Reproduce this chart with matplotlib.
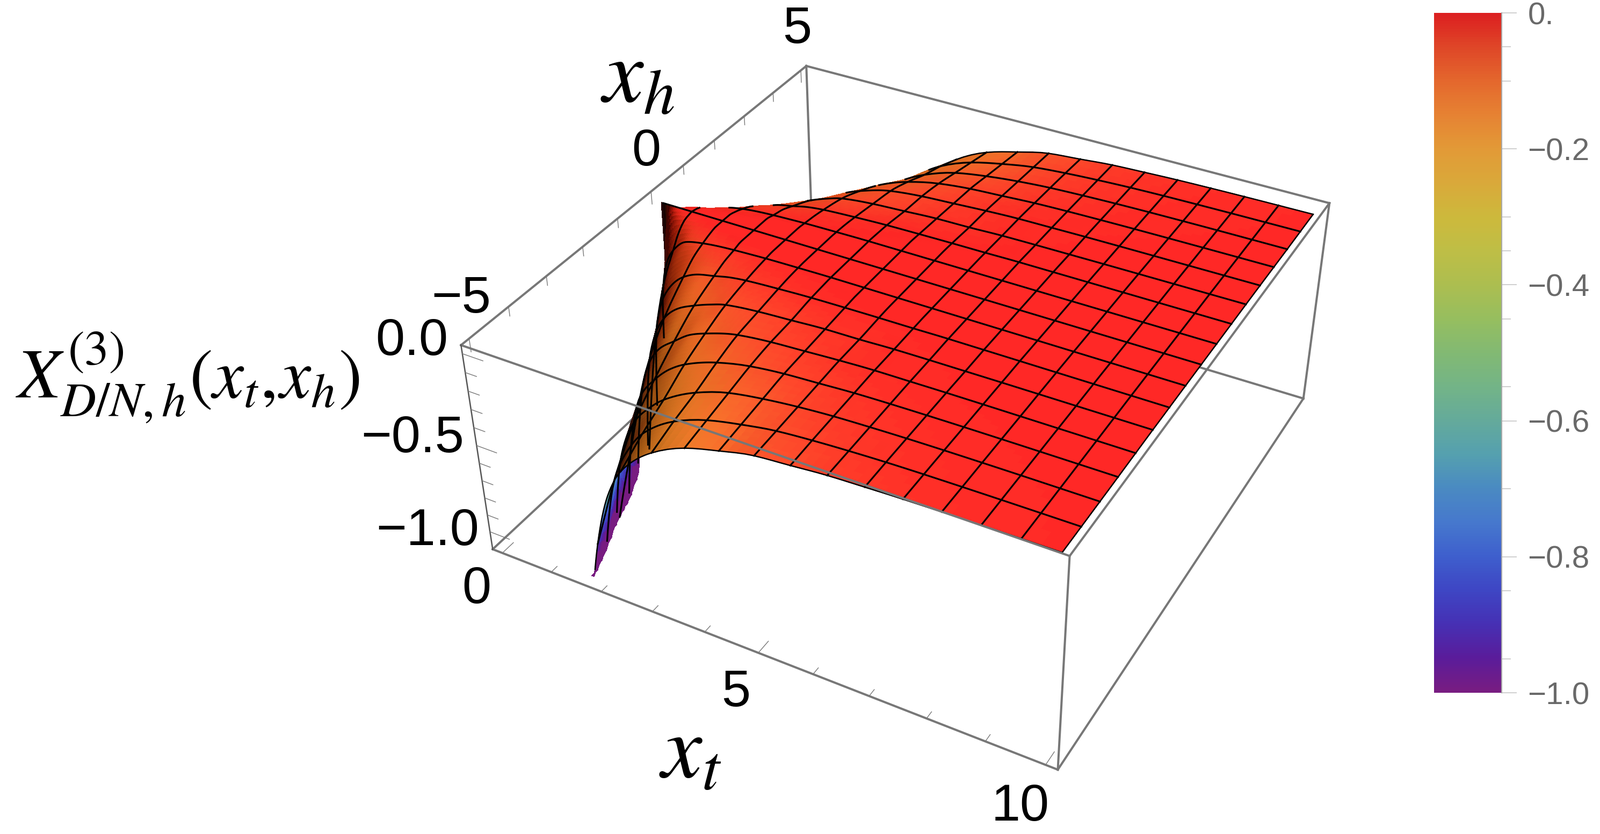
import numpy as np
import matplotlib
matplotlib.use("Agg")
import matplotlib.pyplot as plt
from matplotlib.colors import LinearSegmentedColormap, Normalize
from matplotlib.cm import ScalarMappable
from mpl_toolkits.mplot3d import proj3d
from mpl_toolkits.mplot3d.art3d import Poly3DCollection

W, H = 2979, 1553

# box ranges
xt_lim = (-0.2, 10.2)
xh_lim = (-5.2, 5.2)
z_lim = (-1.105, 0.045)
z_clip = -1.09

# values, only |x_h| because the surface is even in x_h
xt_grid = np.array([0, .15, .3, .45, .625, .9, 1.25, 1.55, 1.875, 2.2, 2.5, 3.125, 3.75, 4.375, 5, 5.625, 6.25, 6.875, 7.5, 8.75, 10])
xh_grid = np.array([0, .2, .4, .625, .9, 1.25, 1.875, 2.5, 3.125, 3.75, 4.375, 5])
z_h000 = [0, 0, 0, 0, 0, 0, 0, 0, 0, 0, 0, 0, 0, 0, 0, 0, 0, 0, 0, 0, 0]
z_h020 = [-3, -.2, -.05, -.02, -.01, -.005, 0, 0, 0, 0, 0, 0, 0, 0, 0, 0, 0, 0, 0, 0, 0]
z_h040 = [-4, -.9, -.2, -.09, -.045, -.02, -.01, -.005, 0, 0, 0, 0, 0, 0, 0, 0, 0, 0, 0, 0, 0]
z_h062 = [-5, -2.6, -.48, -.22, -.12, -.05, -.028, -.018, -.012, -.008, -.005, -.002, 0, 0, 0, 0, 0, 0, 0, 0, 0]
z_h090 = [-6, -5, -1.2, -.43, -.22, -.115, -.055, -.035, -.025, -.018, -.012, -.006, -.003, 0, 0, 0, 0, 0, 0, 0, 0]
z_h125 = [-7, -6, -3, -1.03, -.43, -.22, -.115, -.075, -.055, -.035, -.025, -.015, -.008, -.005, -.003, -.002, 0, 0, 0, 0, 0]
z_h188 = [-8, -7, -6, -3, -1.2, -.47, -.24, -.16, -.115, -.08, -.055, -.035, -.025, -.015, -.012, -.006, -.004, -.003, -.002, -.001, 0]
z_h250 = [-8, -8, -7, -5.5, -2.5, -1, -.43, -.28, -.205, -.14, -.105, -.055, -.035, -.025, -.015, -.008, -.006, -.004, -.003, -.002, -.001]
z_h312 = [-8, -8, -8, -7, -4, -1.9, -.78, -.44, -.31, -.22, -.165, -.095, -.055, -.035, -.025, -.015, -.01, -.007, -.005, -.003, -.002]
z_h375 = [-8, -8, -8, -8, -6, -3, -1.2, -.65, -.43, -.32, -.245, -.145, -.085, -.055, -.035, -.022, -.015, -.01, -.007, -.004, -.003]
z_h438 = [-8, -8, -8, -8, -7, -4.5, -1.9, -1.05, -.62, -.43, -.315, -.185, -.115, -.075, -.045, -.03, -.02, -.013, -.009, -.005, -.003]
z_h500 = [-8, -8, -8, -8, -8, -6, -2.6, -1.45, -.88, -.56, -.4, -.235, -.145, -.095, -.055, -.04, -.025, -.018, -.012, -.006, -.003]
z_rows = [z_h000, z_h020, z_h040, z_h062, z_h090, z_h125, z_h188, z_h250, z_h312, z_h375, z_h438, z_h500]

# colour bar, from z=-1 to z=0
cbar_z = [-1, -.95, -.9, -.85, -.8, -.75, -.7, -.65, -.6, -.55, -.5, -.45, -.4, -.35, -.3, -.25, -.2, -.15, -.1, -.05, 0]
cbar_rgb = ["#781c81", "#5a1c9a", "#4630b4", "#3e46c4", "#3e5fcd", "#4678cd", "#4a8ac2", "#55a0af", "#64aa9b", "#73b487",
            "#82b973", "#96be5f", "#acbe50", "#bebe46", "#cdb93c", "#d9a93a", "#e29a37", "#e68333", "#e4682d", "#df4728", "#dc2020"]

cmap = LinearSegmentedColormap.from_list("rainbow", [((z + 1), c) for z, c in zip(cbar_z, cbar_rgb)], N=256)
norm = Normalize(-1, 0)

major_cb = [0, -.2, -.4, -.6, -.8, -1]
minor_cb = [-.05, -.1, -.3, -.35, -.45, -.55, -.7, -.85, -.95]
cb_labels = ["0.", "\u22120.2", "\u22120.4", "\u22120.6", "\u22120.8", "\u22121.0"]


def pchip(x, y, xnew):
    # monotone cubic, there is no scipy here
    h = np.diff(x)
    d = np.diff(y) / h
    m = np.zeros_like(y, dtype=float)
    for i in range(1, len(x) - 1):
        if d[i - 1] * d[i] > 0:
            w1 = 2 * h[i] + h[i - 1]
            w2 = h[i] + 2 * h[i - 1]
            m[i] = (w1 + w2) / (w1 / d[i - 1] + w2 / d[i])
    m[0] = d[0]
    m[-1] = d[-1]
    i = np.clip(np.searchsorted(x, xnew) - 1, 0, len(h) - 1)
    t = (xnew - x[i]) / h[i]
    return ((2*t**3 - 3*t**2 + 1) * y[i] + (t**3 - 2*t**2 + t) * h[i] * m[i]
            + (-2*t**3 + 3*t**2) * y[i + 1] + (t**3 - t**2) * h[i] * m[i + 1])


# fine sampling with the mesh lines on it
mesh_step = .625
xt_fine = np.concatenate([np.linspace(k * mesh_step, (k + 1) * mesh_step, 17 if k < 5 else 5)[:-1] for k in range(16)] + [[10.]])
xh_fine = np.concatenate([np.linspace(-5 + k * mesh_step, -5 + (k + 1) * mesh_step, 9)[:-1] for k in range(16)] + [[5.]])
table = np.array(z_rows, dtype=float)
by_xt = np.array([pchip(xt_grid, row, xt_fine) for row in table])
Z = np.array([pchip(xh_grid, by_xt[:, j], np.abs(xh_fine)) for j in range(len(xt_fine))]).T
X, Y = np.meshgrid(xt_fine, xh_fine)

fig = plt.figure(figsize=(W / 100, H / 100), dpi=100)
S = 3000.
cx, cy = 1665.691, 816.075
ax = fig.add_axes([(cx - S / 2) / W, (cy - S / 2) / H, S / W, S / H], projection="3d", computed_zorder=False)
ax.set_xlim(*xt_lim)
ax.set_ylim(*xh_lim)
ax.set_zlim(*z_lim)
aspect = (0.70829, 0.70873, 0.28365)
ax.view_init(36.127, -61.471, 0.034)
ax.set_proj_type("persp", focal_length=0.24438)
ax.set_box_aspect(aspect, zoom=np.linalg.norm(aspect) / (1.8294640721620434 * 25 / 24))
ax.set_axis_off()
ax.patch.set_alpha(0)

M = ax.get_proj()
u, v, _ = proj3d.proj_transform(X.ravel(), Y.ravel(), Z.ravel(), M)
u = u.reshape(X.shape)
v = v.reshape(X.shape)
# sign of the screen area tells which side of a facet the camera sees
du1, dv1 = u[:-1, 1:] - u[:-1, :-1], v[:-1, 1:] - v[:-1, :-1]
du2, dv2 = u[1:, :-1] - u[:-1, :-1], v[1:, :-1] - v[:-1, :-1]
front = du1 * dv2 - dv1 * du2 > 0

# lighting in box coordinates
dzx = np.gradient(Z, xt_fine, axis=1) * (aspect[2] / (z_lim[1] - z_lim[0])) / (aspect[0] / 10.4)
dzy = np.gradient(Z, xh_fine, axis=0) * (aspect[2] / (z_lim[1] - z_lim[0])) / (aspect[1] / 10.4)
nrm = np.sqrt(dzx**2 + dzy**2 + 1)
light = np.array([.3, -.1, .95])
lit = np.clip((-dzx * light[0] - dzy * light[1] + light[2]) / nrm, 0, 1)
s = np.clip(lit / light[2], .1, 1)
rgb = cmap(norm(np.clip(Z, -1, 0)))[..., :3]
lit_rgb = np.clip(np.stack([rgb[..., 0] * 1.16 * s**.6, rgb[..., 1] * 1.25 * s**1.5, rgb[..., 2] * 1.19 * s**2], axis=-1), 0, 1)

Zc = np.maximum(Z, z_clip)
verts, cols = [], []
for i in range(X.shape[0] - 1):
    for j in range(X.shape[1] - 1):
        if Z[i:i + 2, j:j + 2].max() < z_clip:
            continue
        if not front[i, j] and Y[i, j] > -2.5:
            continue
        cols.append(lit_rgb[i, j] if front[i, j] else rgb[i, j])
        verts.append([(X[i, j], Y[i, j], Zc[i, j]), (X[i, j + 1], Y[i, j + 1], Zc[i, j + 1]),
                      (X[i + 1, j + 1], Y[i + 1, j + 1], Zc[i + 1, j + 1]), (X[i + 1, j], Y[i + 1, j], Zc[i + 1, j])])

gray = "#777777"
x0, x1 = xt_lim
y0, y1 = xh_lim
z0, z1 = z_lim
# box edges behind the surface
for a, b in [((x0, y0, z0), (x0, y1, z0)), ((x0, y1, z0), (x1, y1, z0)), ((x0, y1, z0), (x0, y1, z1))]:
    ax.plot(*zip(a, b), color=gray, lw=2.9, zorder=1)
surf = Poly3DCollection(verts, facecolors=cols, edgecolors=cols, linewidths=.6, antialiased=False, zorder=2)
ax.add_collection3d(surf)

# mesh lines, the side of the fold turned away for x_h>0 stays hidden
vis = np.zeros(X.shape, dtype=bool)
vis[:-1, :-1] = front
vis[1:, 1:] |= front
vis[Y < 0] = True
vis &= Z >= z_clip
for k in range(1, 16):
    i = np.argmin(np.abs(xh_fine - (-5 + k * mesh_step)))
    zl = np.where(vis[i], Z[i], np.nan)
    ax.plot(X[i], Y[i], zl, color="black", lw=2.3, zorder=3)
    j = np.argmin(np.abs(xt_fine - k * mesh_step))
    zl = np.where(vis[:, j], Z[:, j], np.nan)
    ax.plot(X[:, j], Y[:, j], zl, color="black", lw=2.3, zorder=3)
for i in (0, -1):
    ax.plot(X[i], Y[i], np.where(vis[i], Z[i], np.nan), color="black", lw=1.8, zorder=3)
ax.plot(X[:, -1], Y[:, -1], Z[:, -1], color="black", lw=1.8, zorder=3)

# box edges in front of it
for a, b in [((x0, y0, z1), (x1, y0, z1)), ((x1, y0, z1), (x1, y1, z1)), ((x0, y0, z1), (x0, y1, z1)),
             ((x0, y1, z1), (x1, y1, z1)), ((x1, y0, z1), (x1, y0, z0)), ((x1, y1, z1), (x1, y1, z0)),
             ((x0, y0, z0), (x1, y0, z0)), ((x1, y0, z0), (x1, y1, z0))]:
    ax.plot(*zip(a, b), color=gray, lw=2.9, zorder=4)
ax.plot(*zip((x0, y0, z1), (x0, y0, z0)), color="#555555", lw=1.8, zorder=4)

# ticks
for t in range(0, 11):
    ln = .3 if t % 5 == 0 else .16
    ax.plot([t, t], [y0, y0 + ln], [z0, z0], color=gray, lw=1, zorder=4)
for t in range(-5, 6):
    ln = .07 if t % 5 == 0 else .05
    ax.plot([x0, x0], [t, t], [z1, z1 - ln], color=gray, lw=1, zorder=4)
for n in range(-10, 1):
    ln = .4 if n % 5 == 0 else .22
    ax.plot([x0, x0 + ln], [y0, y0], [n / 10, n / 10], color=gray, lw=1, zorder=4)


def label(px, py, s, **kw):
    fig.text(px / W, 1 - py / H, s, ha="center", va="center", **kw)


num = dict(family="Liberation Sans", fontsize=70, color="black")
label(1484, 55, "5", **num)
label(1203, 283, "0", **num)
label(859, 557, "\u22125", **num)
label(767, 636, "0.0", **num)
label(768, 817, "\u22120.5", **num)
label(796, 990, "\u22121.0", **num)
label(887, 1098, "0", **num)
label(1370, 1290, "5", **num)
label(1900, 1503, "10", **num)
plt.rcParams["mathtext.fontset"] = "stix"
label(1187, 143, r"$x_h$", fontsize=122)
label(1285, 1402, r"$x_t$", fontsize=122)
label(349, 703, r"$X_{D/N,h}^{(3)}(x_t,\!x_h)$", fontsize=94)

# colour bar
cax = fig.add_axes([2670 / W, 1 - 1290 / H, 126 / W, 1266 / H])
cb = fig.colorbar(ScalarMappable(norm=norm, cmap=cmap), cax=cax)
cb.outline.set_visible(False)
cax.yaxis.set_ticks_position("right")
cax.set_yticks(major_cb, labels=cb_labels)
cax.set_yticks(minor_cb, minor=True)
cax.tick_params(axis="y", which="major", length=20, width=1.3, color="#cccccc", pad=15, labelsize=42, labelcolor="#696969")
cax.tick_params(axis="y", which="minor", length=12, width=1.3, color="#cccccc")
for t in cax.get_yticklabels():
    t.set_family("Liberation Sans")
cax.axvline(1, color="#aaaaaa", lw=1.5, clip_on=False)

fig.savefig("out.png", dpi=100)
